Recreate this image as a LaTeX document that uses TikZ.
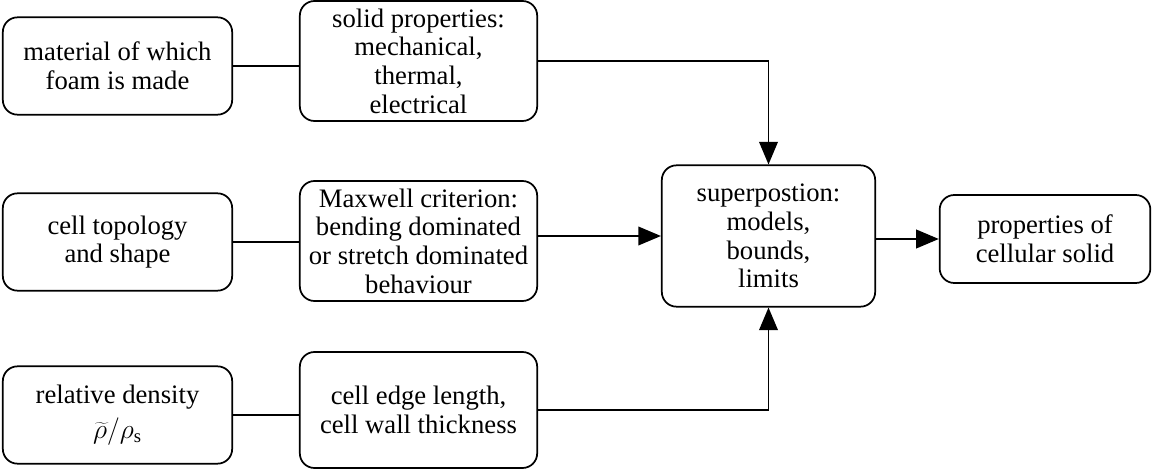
\documentclass[tikz,border=0pt]{standalone}
\usepackage{fontspec}
\setmainfont{Liberation Serif}
\usetikzlibrary{arrows.meta}

\tikzset{
  blockbox/.style={draw, line width=1.3pt, rounded corners=11pt, align=center,
    inner sep=0pt, font=\fontsize{20}{21.5}\selectfont},
  link/.style={line width=1.3pt},
  feed/.style={line width=1.3pt, -{Triangle[length=17pt,width=14pt]}}
}

\begin{document}
\begin{tikzpicture}[x=0.75pt,y=0.75pt,yscale=-1,xscale=1]
\useasboundingbox (0,0) rectangle (1153,470);

% left column
\node [blockbox, minimum width=172pt, minimum height=73pt] (material) at (117.5,66) {material of which\\foam is made};
\node [blockbox, minimum width=172pt, minimum height=73pt] (topology) at (117.5,242) {cell topology\\and shape};
\node [blockbox, minimum width=172pt, minimum height=73pt] (density) at (117.5,415) {relative density\\[5pt]$\widetilde{\rho}/\rho_{\mathrm{s}}$};

% middle column
\node [blockbox, minimum width=178pt, minimum height=90pt] (solid) at (418.5,61) {solid properties:\\mechanical,\\thermal,\\electrical};
\node [blockbox, minimum width=178pt, minimum height=90pt] (maxwell) at (418.5,241) {Maxwell criterion:\\bending dominated\\or stretch dominated\\behaviour};
\node [blockbox, minimum width=178pt, minimum height=87pt] (edge) at (418.5,410) {cell edge length,\\cell wall thickness};

% right part
\node [blockbox, minimum width=160pt, minimum height=106pt] (superpos) at (768.5,236) {superpostion:\\models,\\bounds,\\limits};
\node [blockbox, minimum width=158pt, minimum height=66pt] (result) at (1045,239) {properties of\\cellular solid};

% connectors
\draw [link] (material) -- (solid.west |- material);
\draw [link] (topology) -- (maxwell.west |- topology);
\draw [link] (density) -- (edge.west |- density);
\draw [feed] (solid.east) -| (superpos.north);
\draw [feed] (maxwell.east |- superpos) -- (superpos.west);
\draw [feed] (edge.east) -| (superpos.south);
\draw [feed] (superpos.east |- result) -- (result.west);

\end{tikzpicture}
\end{document}
